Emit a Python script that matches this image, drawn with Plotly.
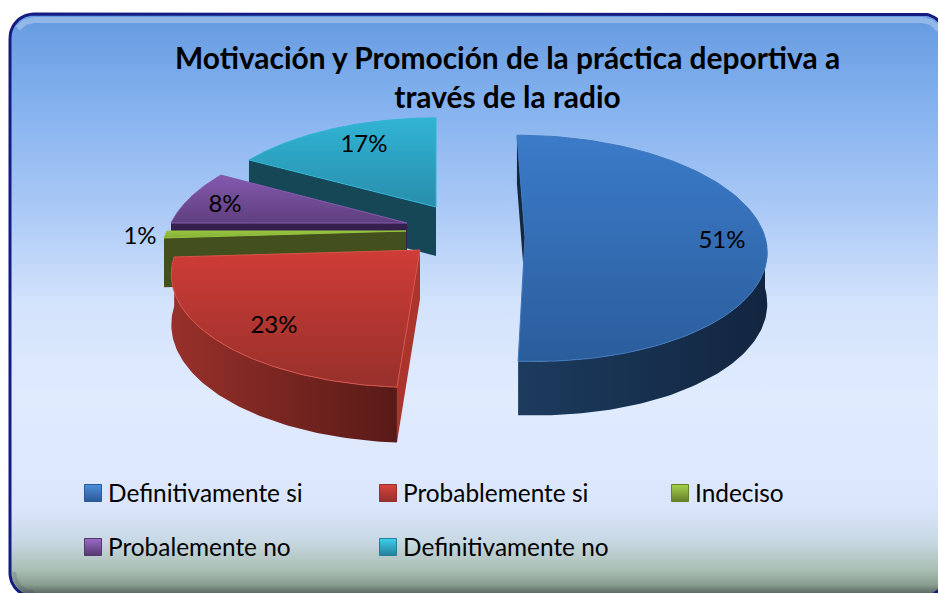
"""
Pie 3D eclate : Motivacion y Promocion de la practica deportiva a traves de la radio
"""

import numpy as np
import plotly.graph_objects as go

# ── Donnees ───────────────────────────────────────────────────────
CATEGORIES = ['Definitivamente si', 'Probablemente si', 'Indeciso',
              'Probalemente no', 'Definitivamente no']
VALUES = [51, 23, 1, 8, 17]
TITLE = 'Motivación y Promoción de la práctica deportiva a<br>través de la radio'

# ── Geometrie (repere pixel de l'image) ───────────────────────────
W, H = 938, 593
VX = 436          # point de fuite horizontal
FONT = 'Lato'

# ax, ay = sommet de la part, r = rayon horizontal, k = rayon vertical, p = perspective, d = epaisseur
GEOM = [
    dict(ax=525, ay=237, r=240, k=112, p=0.10, d=51),
    dict(ax=420, ay=250, r=243, k=110, p=0.20, d=49),
    dict(ax=406, ay=231, r=239, k=110, p=0.20, d=49),
    dict(ax=407, ay=223, r=236, k=109, p=0.20, d=49),
    dict(ax=436, ay=207, r=234, k=107, p=0.20, d=49),
]

# haut (debut, fin), mur (gauche, droite), face coupee
COLORS = [
    dict(top=('#3b7bc9', '#2b5d9c'), wall=('#1c3b5e', '#122540'), cut='#14283f', rim='#3f78bd'),
    dict(top=('#cf3c37', '#97302b'), wall=('#98302a', '#581a17'), cut='#ab342d', rim='#d8534b'),
    dict(top=('#97c43f', '#86b03a'), wall=('#434f1c', '#434f1c'), cut='#434f1c', rim='#97c43f'),
    dict(top=('#8459ae', '#5f3f7e'), wall=('#35204d', '#35204d'), cut='#35204d', rim='#8459ae'),
    dict(top=('#31b4d4', '#298dac'), wall=('#164757', '#164757'), cut='#164757', rim='#31b4d4'),
]
LEGEND_SWATCH = [('#4a90dc', '#2a5a98'), ('#d9433d', '#96302b'), ('#a6d14a', '#667f2c'),
                 ('#9a6cc8', '#55376f'), ('#3fd0ec', '#23809c')]

LABEL_X = [722, 274, 140, 225, 364]
LABEL_Y = [242, 327, 238, 206, 146]
LEGEND_X = [93, 388, 680, 93, 388]
LEGEND_Y = [493, 493, 493, 547, 547]
LEGEND_TEXT_DX = 15
LEGEND_TEXT_DY = 3

BG_STOPS = [(0.0, '#659ae0'), (0.15, '#83b1ee'), (0.33, '#a9c8f6'), (0.5, '#d3e3fc'),
            (0.66, '#e0ebfe'), (0.85, '#dbe6fd'), (0.91, '#c8d8e4'), (0.96, '#a9bfb2'),
            (0.985, '#8a9f92'), (1.0, '#5d6c66')]


def project(g, theta, drop=0.0):
    """Projette un angle (0 = arriere, sens horaire) sur l'ecran, avec perspective."""
    u, v = np.sin(theta), -np.cos(theta)
    s = 1.0 / (1.0 - g['p'] * v)
    x = g['ax'] + (g['ax'] - VX) * (s - 1) + g['r'] * u * s
    y = g['ay'] + g['k'] * v * s + drop * g['d'] * s ** 0.55
    return x, y


def polygon(fig, x, y, fill_args, line_color=None, line_width=0):
    fig.add_trace(go.Scatter(
        x=x, y=y, mode='lines', fill='toself', hoverinfo='skip', showlegend=False,
        line=dict(color=line_color or 'rgba(0,0,0,0)', width=line_width), **fill_args,
    ))


def gradient(kind, start, stop, c0, c1):
    return dict(fillgradient=dict(type=kind, start=start, stop=stop,
                                  colorscale=[[0, c0], [1, c1]]))


def rounded_rect(x0, y0, x1, y1, rad):
    xs, ys = [], []
    corners = [(x0 + rad, y0 + rad, np.pi, 1.5 * np.pi), (x1 - rad, y0 + rad, 1.5 * np.pi, 2 * np.pi),
               (x1 - rad, y1 - rad, 0, 0.5 * np.pi), (x0 + rad, y1 - rad, 0.5 * np.pi, np.pi)]
    for cx, cy, a0, a1 in corners:
        t = np.linspace(a0, a1, 16)
        xs += list(cx + rad * np.cos(t))
        ys += list(cy + rad * np.sin(t))
    return xs + xs[:1], ys + ys[:1]


fig = go.Figure()

# Fond du cadre
fx, fy = rounded_rect(10, 14, 946, 597, 24)
fig.add_trace(go.Scatter(
    x=fx, y=fy, mode='lines', fill='toself', hoverinfo='skip', showlegend=False,
    line=dict(color='#141c82', width=3),
    fillgradient=dict(type='vertical', start=14, stop=593,
                      colorscale=[[p, c] for p, c in BG_STOPS]),
))
# Biseau : reflet en haut, ombre a gauche et en bas
ix, iy = rounded_rect(14, 20, 942, 592, 20)
ix, iy = np.array(ix), np.array(iy)
top_part = iy < 30
fig.add_trace(go.Scatter(x=ix[top_part], y=iy[top_part], mode='lines', hoverinfo='skip',
                         showlegend=False, line=dict(color='rgba(255,255,255,0.28)', width=6)))
low_part = (iy > 300) & (ix < 500)
fig.add_trace(go.Scatter(x=ix[low_part], y=iy[low_part], mode='lines', hoverinfo='skip',
                         showlegend=False, line=dict(color='rgba(50,60,80,0.18)', width=4)))

# Angles des parts
cum = np.cumsum([0] + VALUES) / sum(VALUES) * 2 * np.pi

# Ordre de dessin : de l'arriere vers l'avant
for i in [4, 3, 2, 1, 0]:
    g, c, a0, a1 = GEOM[i], COLORS[i], cum[i], cum[i + 1]
    ax, ay = g['ax'], g['ay']
    apex_low = ay + g['d']

    # Faces coupees visibles (bord de debut de chaque part)
    bx, by = project(g, a0)
    _, bby = project(g, a0, 1)
    polygon(fig, [bx, ax, ax, bx], [by, ay, apex_low, bby], dict(fillcolor=c['cut']))

    # Mur exterieur (partie avant seulement)
    w0, w1 = max(a0, np.pi / 2), min(a1, 1.5 * np.pi)
    if w1 > w0:
        t = np.linspace(w0, w1, 80)
        xt, yt = project(g, t)
        xb, yb = project(g, t, 1)
        wx = np.r_[xt, xb[::-1]]
        wy = np.r_[yt, yb[::-1]]
        polygon(fig, wx, wy, gradient('horizontal', wx.min(), wx.max(), *c['wall']))

    # Face superieure
    t = np.linspace(a0, a1, 120)
    xt, yt = project(g, t)
    px = np.r_[ax, xt, ax]
    py = np.r_[ay, yt, ay]
    polygon(fig, px, py, gradient('vertical', py.min(), py.max(), *c['top']), c['rim'], 1)

# Etiquettes de valeur
fig.add_trace(go.Scatter(
    x=LABEL_X, y=LABEL_Y, mode='text', text=[f'{v}%' for v in VALUES],
    textfont=dict(family=FONT, size=24, color='#000000'), hoverinfo='skip', showlegend=False,
))

# Legende
for i, name in enumerate(CATEGORIES):
    fig.add_trace(go.Scatter(
        x=[LEGEND_X[i]], y=[LEGEND_Y[i]], mode='markers',
        marker=dict(symbol='square', size=17, color=LEGEND_SWATCH[i][0],
                    gradient=dict(type='vertical', color=LEGEND_SWATCH[i][1]),
                    line=dict(color=LEGEND_SWATCH[i][1], width=1)),
        hoverinfo='skip', showlegend=False,
    ))
    fig.add_trace(go.Scatter(
        x=[LEGEND_X[i] + LEGEND_TEXT_DX], y=[LEGEND_Y[i] + LEGEND_TEXT_DY], mode='text', text=[name],
        textposition='middle right', textfont=dict(family=FONT, size=24.4, color='#000000'),
        hoverinfo='skip', showlegend=False,
    ))

fig.update_layout(
    width=W, height=H, margin=dict(t=0, b=0, l=0, r=0), showlegend=False,
    paper_bgcolor='#ffffff', plot_bgcolor='rgba(0,0,0,0)',
    xaxis=dict(range=[0, W], visible=False, fixedrange=True),
    yaxis=dict(range=[H, 0], visible=False, fixedrange=True),
    annotations=[dict(text=f'<b>{TITLE}</b>', x=507, y=76, xref='x', yref='y', showarrow=False,
                      font=dict(family=FONT, size=29.9, color='#000000'), align='center')],
)

fig.write_html('out.html', config={'displayModeBar': False},
               post_script="document.body.style.margin='0';")
